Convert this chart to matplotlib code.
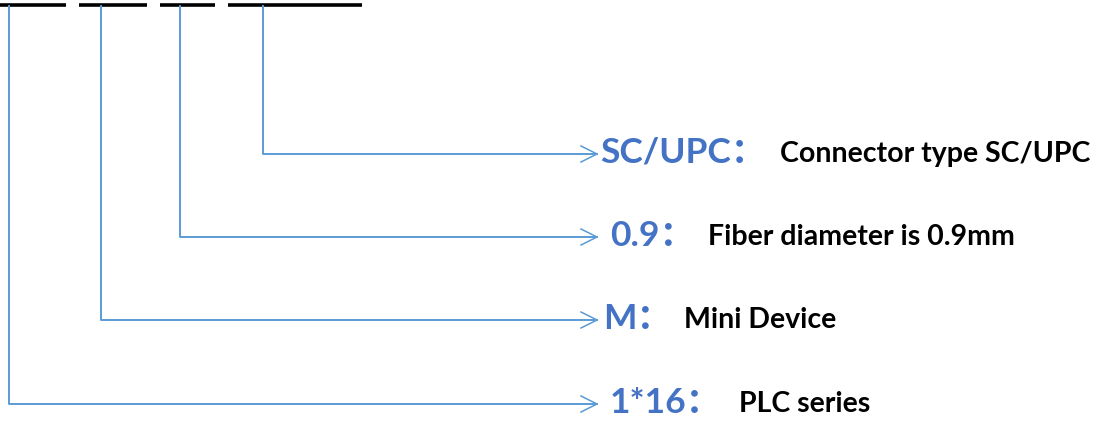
import matplotlib
matplotlib.use("Agg")
import matplotlib.pyplot as plt

# code parts (top to bottom) and their meaning
codes = ["SC/UPC", "0.9", "M", "1*16"]
descs = ["Connector type SC/UPC", "Fiber diameter is 0.9mm", "Mini Device", "PLC series"]

# underline segments of the product code at the top (pixel coords)
seg_x0 = [0, 79, 160, 228]
seg_x1 = [66, 147, 215, 362]

# layout in pixels
branch_x = [263, 180, 101, 9]
row_y = [154, 237, 320, 404]
code_x = [600, 610, 603, 610]
desc_x = [780, 708, 684, 739]
arrow_end = 597

line_c = "#5B9BD5"
text_c = "#4472C4"

fig = plt.figure(figsize=(11.02, 4.21), dpi=100)
ax = fig.add_axes([0, 0, 1, 1])
ax.set_xlim(0, 1102)
ax.set_ylim(421, 0)
ax.axis("off")

for a, b in zip(seg_x0, seg_x1):
    ax.plot([a, b], [4.5, 4.5], color="black", lw=2.6, solid_capstyle="butt")

for i in range(len(codes)):
    x, y = branch_x[i], row_y[i]
    ax.plot([x, x, arrow_end], [6, y, y], color=line_c, lw=1.4)
    ax.plot([arrow_end - 16, arrow_end, arrow_end - 16], [y - 8, y, y + 8],
            color=line_c, lw=1.1)
    ax.text(code_x[i], y - 1, codes[i] + "\uff1a", color=text_c, fontsize=25.5,
            fontweight="bold", va="center", ha="left",
            family=["Lato", "Noto Sans CJK SC"])
    ax.text(desc_x[i], y, descs[i], color="black", fontsize=20.5,
            fontweight="bold", va="center", ha="left", family=["Lato"])

fig.savefig("out.png", dpi=100)
